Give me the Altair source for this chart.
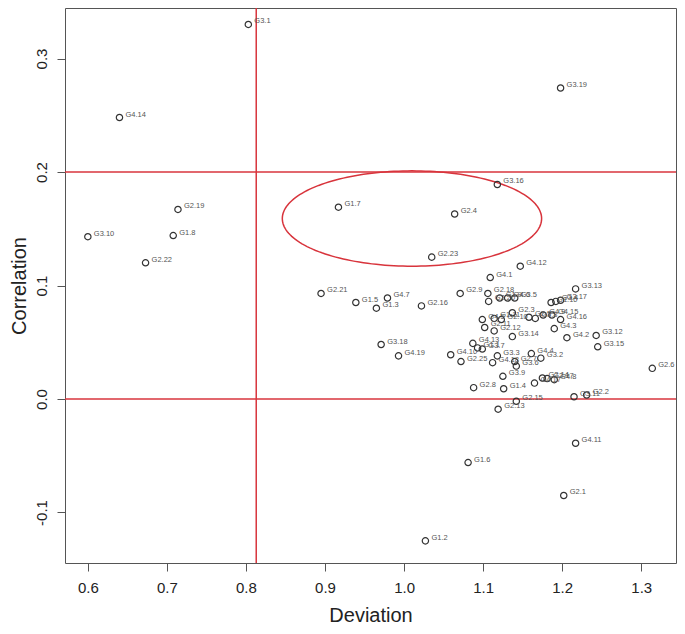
import altair as alt
import pandas as pd
import numpy as np

labels = ["G3.1", "G3.19", "G4.14", "G3.16", "G1.7", "G2.4", "G2.19", "G3.10", "G1.8", "G2.22",
          "G2.23", "G4.12", "G4.1", "G3.13", "G2.21", "G2.9", "G1.5", "G4.7", "G1.3", "G2.16",
          "G3.18", "G4.19", "G3.12", "G3.15", "G2.6", "G4.11", "G1.6", "G2.1", "G1.2", "G2.15",
          "G2.13", "G2.18", "G2.20", "G1.9", "G4.6", "G3.5", "G1.10", "G3.4", "G3.17", "G2.3",
          "G2.5", "G3.8", "G4.9", "G4.5", "G1.11", "G2.10", "G4.15", "G4.16", "G2.11", "G2.12",
          "G3.14", "G4.3", "G4.2", "G4.13", "G1.1", "G3.7", "G4.10", "G2.25", "G3.3", "G4.18",
          "G2.7", "G3.6", "G3.9", "G4.4", "G3.2", "G1.4", "G2.8", "G4.17", "G2.14", "G2.17",
          "G4.8", "G3.11", "G2.2"]
deviation = [0.803, 1.198, 0.640, 1.118, 0.917, 1.064, 0.714, 0.600, 0.708, 0.673,
             1.035, 1.147, 1.109, 1.217, 0.895, 1.071, 0.939, 0.979, 0.965, 1.022,
             0.971, 0.993, 1.243, 1.245, 1.314, 1.217, 1.081, 1.202, 1.027, 1.142,
             1.119, 1.106, 1.107, 1.121, 1.131, 1.140, 1.186, 1.192, 1.198, 1.137,
             1.158, 1.166, 1.176, 1.099, 1.114, 1.123, 1.187, 1.198, 1.102, 1.114,
             1.137, 1.190, 1.206, 1.087, 1.093, 1.099, 1.059, 1.072, 1.118, 1.112,
             1.140, 1.142, 1.125, 1.161, 1.173, 1.126, 1.088, 1.165, 1.175, 1.181,
             1.190, 1.215, 1.231]
correlation = [0.330, 0.274, 0.248, 0.189, 0.169, 0.163, 0.167, 0.143, 0.144, 0.120,
               0.125, 0.117, 0.107, 0.097, 0.093, 0.093, 0.085, 0.089, 0.080, 0.082,
               0.048, 0.038, 0.056, 0.046, 0.027, -0.039, -0.056, -0.085, -0.125, -0.002,
               -0.009, 0.093, 0.086, 0.089, 0.089, 0.089, 0.085, 0.086, 0.087, 0.076,
               0.072, 0.071, 0.074, 0.070, 0.071, 0.070, 0.074, 0.070, 0.063, 0.060,
               0.055, 0.062, 0.054, 0.049, 0.045, 0.044, 0.039, 0.033, 0.038, 0.032,
               0.033, 0.029, 0.020, 0.040, 0.036, 0.009, 0.010, 0.014, 0.0185, 0.018,
               0.017, 0.002, 0.0035]

x_ticks = [0.6, 0.7, 0.8, 0.9, 1.0, 1.1, 1.2, 1.3]
y_ticks = [-0.1, 0.0, 0.1, 0.2, 0.3]
x_domain = [0.5711, 1.344]
y_domain = [-0.1445, 0.3445]
v_lines = [0.813]
h_lines = [0.0, 0.2]
ellipse_center = [1.010, 0.159]
ellipse_radii = [0.164, 0.042]

RED = "#D8343C"
FONT = "Liberation Sans"

df = pd.DataFrame({"label": labels, "dev": deviation, "cor": correlation})

t = np.linspace(0, 2 * np.pi, 181)
df_ell = pd.DataFrame({
    "t": np.arange(len(t)),
    "x": ellipse_center[0] + ellipse_radii[0] * np.cos(t),
    "y": ellipse_center[1] + ellipse_radii[1] * np.sin(t),
})

xs = alt.Scale(domain=x_domain, nice=False, zero=False)
ys = alt.Scale(domain=y_domain, nice=False, zero=False)

hyphen_expr = "replace(format(datum.value, '.1f'), '\u2212', '-')"

xaxis = alt.Axis(values=x_ticks, labelExpr=hyphen_expr, title="Deviation", grid=False, domain=False,
                 tickSize=8, tickColor="#555", tickWidth=1, labelFontSize=15, labelPadding=9,
                 labelColor="#222", titleColor="#222", titleFontSize=20, titleFontWeight="normal",
                 titleY=58, titleBaseline="alphabetic")
yaxis = alt.Axis(values=y_ticks, labelExpr=hyphen_expr, title="Correlation", grid=False, domain=False,
                 tickSize=8, tickColor="#555", tickWidth=1, labelFontSize=15, labelPadding=8,
                 labelAngle=270, labelAlign="center", labelBaseline="bottom",
                 labelColor="#222", titleColor="#222", titleFontSize=20, titleFontWeight="normal",
                 titleX=-46, titleBaseline="middle", titleAlign="center")

X = lambda f: alt.X(f, scale=xs, axis=xaxis, title="Deviation")
Y = lambda f: alt.Y(f, scale=ys, axis=yaxis, title="Correlation")

vrule = alt.Chart(pd.DataFrame({"x": v_lines})).mark_rule(color=RED, strokeWidth=1.5).encode(
    x=X("x:Q"))
hrule = alt.Chart(pd.DataFrame({"y": h_lines})).mark_rule(color=RED, strokeWidth=1.5).encode(
    y=Y("y:Q"))
ell = alt.Chart(df_ell).mark_line(color=RED, strokeWidth=1.5).encode(
    x=X("x:Q"), y=Y("y:Q"), order="t:Q")

pts = alt.Chart(df).mark_point(shape="circle", filled=False, size=40, strokeWidth=1.2,
                               color="#333", opacity=1).encode(
    x=X("dev:Q"), y=Y("cor:Q"))
txt = alt.Chart(df).mark_text(align="left", baseline="middle", dx=6, dy=-3, fontSize=7.5,
                              color="#555", font=FONT).encode(
    x=X("dev:Q"), y=Y("cor:Q"), text="label:N")

chart = alt.layer(vrule, hrule, ell, pts, txt).properties(
    width=611, height=555,
    padding={"left": 57, "top": 0, "right": 1, "bottom": 62},
    autosize=alt.AutoSizeParams(type="none"),
).configure_view(stroke="#555", strokeWidth=1).configure_axis(labelFont=FONT, titleFont=FONT)

chart.save("out.html", embed_options={"renderer": "svg", "actions": False})
